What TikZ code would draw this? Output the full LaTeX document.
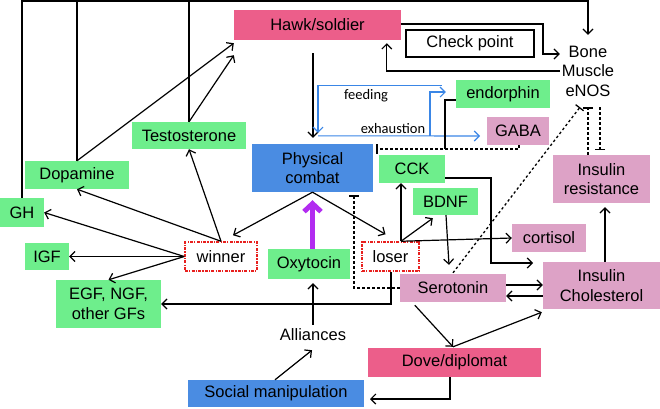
\documentclass[tikz,border=0pt]{standalone}
\usepackage{fontspec}
\setmainfont{Liberation Sans}
\newfontfamily\calibrifont{Carlito}
\usetikzlibrary{arrows.meta,calc}
\definecolor{cgreen}{RGB}{110,238,140}
\definecolor{cpink}{RGB}{221,162,198}
\definecolor{chot}{RGB}{236,94,138}
\definecolor{cblue}{RGB}{74,140,226}
\definecolor{cbluel}{RGB}{58,134,230}
\definecolor{cpurple}{RGB}{178,44,240}
\definecolor{cred}{RGB}{232,32,30}
\newcommand\boxfont{\fontsize{16.5}{19.5}\selectfont}
\tikzset{
 box/.style={rectangle, inner sep=0pt, align=center, font=\boxfont},
 gbox/.style={box, fill=cgreen},
 pbox/.style={box, fill=cpink},
 hbox/.style={box, fill=chot},
 bbox/.style={box, fill=cblue},
 rbox/.style={box, fill=white, draw=cred, line width=1.5pt, dash pattern=on 3pt off 1.2pt on 1.2pt off 1.2pt},
 ln/.style={line width=1.2pt, black},
 arr/.style={ln, -{Straight Barb[length=5pt,width=10pt]}},
 barr/.style={line width=1.1pt, cbluel, -{Straight Barb[length=5pt,width=10pt]}},
 inh/.style={line width=1.3pt, black, dash pattern=on 2.5pt off 2.5pt, -{Bar[width=10pt]}},
 lab/.style={inner sep=0pt, font=\calibrifont\fontsize{14.5}{16}\selectfont},
}
\begin{document}
\begin{tikzpicture}[x=1pt,y=-1pt]
\useasboundingbox (0,0) rectangle (660,408);
% nodes
\node[hbox, minimum width=167, minimum height=30] (hawk) at (317.5,25) {Hawk/soldier};
\node[box, draw=black, line width=1.3pt, minimum width=128, minimum height=27] (check) at (470,43.5) {Check point};
\node[box, minimum width=56, minimum height=72] (bone) at (588,71) {Bone\\Muscle\\eNOS};
\node[gbox, minimum width=94, minimum height=28] (endorphin) at (503,94) {endorphin};
\node[pbox, minimum width=62, minimum height=28] (gaba) at (518,131) {GABA};
\node[pbox, minimum width=97, minimum height=48] (ir) at (601.5,179) {Insulin\\resistance};
\node[gbox, minimum width=66, minimum height=28] (cck) at (412,169) {CCK};
\node[gbox, minimum width=65, minimum height=27] (bdnf) at (445.5,201.5) {BDNF};
\node[bbox, minimum width=121, minimum height=48] (combat) at (312.5,168) {Physical\\combat};
\node[gbox, minimum width=114, minimum height=27] (testo) at (189,135.5) {Testosterone};
\node[gbox, minimum width=104, minimum height=28] (dopa) at (77,175) {Dopamine};
\node[gbox, minimum width=44, minimum height=29] (gh) at (22,212.5) {GH};
\node[gbox, minimum width=44, minimum height=27] (igf) at (47,256.5) {IGF};
\node[gbox, minimum width=105, minimum height=48] (egf) at (108.5,304) {EGF, NGF,\\other GFs};
\node[rbox, minimum width=72, minimum height=29] (winner) at (221,256.5) {winner};
\node[gbox, minimum width=82, minimum height=30] (oxy) at (309,264) {Oxytocin};
\node[rbox, minimum width=57, minimum height=29] (loser) at (390.5,256.5) {loser};
\node[pbox, minimum width=74, minimum height=28] (cortisol) at (549,238) {cortisol};
\node[pbox, minimum width=106, minimum height=28] (sero) at (453,288) {Serotonin};
\node[pbox, minimum width=117, minimum height=47] (ic) at (601.5,285.5) {Insulin\\Cholesterol};
\node[hbox, minimum width=173, minimum height=29] (dove) at (454.5,362.5) {Dove/diplomat};
\node[bbox, minimum width=176, minimum height=27] (social) at (276,393.5) {Social manipulation};
\node[box, minimum width=70, minimum height=20] (alliances) at (313,335) {Alliances};
\coordinate (top) at (0,1);
% top lines
\draw[arr] (gh.north) -- (gh.north |- top) -| (bone.north);
\draw[ln] (dopa.north) -- (dopa.north |- top);
\draw[ln] (testo.north) -- (testo.north |- top);
\draw[arr] (dopa.north) -- ($(hawk.south west)+(0,3)$);
\draw[arr] (testo.north) -- ($(hawk.south west)+(0,15)$);
% hawk - bone loop
\draw[arr] (hawk.east |- 0,24) -- (543,24) |- (bone.west |- 0,54);
\draw[arr] (bone.west) -| ($(hawk.south west)+(153,3)$);
% winner
\draw[arr] (winner.north) -- (dopa.south);
\draw[arr] (winner.north) -- (testo.south);
\draw[arr] (winner.west) -- (gh.east);
\draw[arr] (winner.west) -- (igf.east);
\draw[arr] (winner.west) -- (egf.north);
% combat
\draw[arr] (combat.south) -- ($(winner.north)+(12,-6)$);
\draw[arr] (combat.south) -- ($(loser.north)+(-5,-7)$);
\draw[cpurple, line width=5pt, -{Straight Barb[length=8pt,width=17pt]}] (combat.south |- oxy.north) -- ($(combat.south)+(0,8)$);
\draw[arr] ($(hawk.south)+(-4.5,13)$) -- ($(combat.north)+(0.5,-6)$);
% blue
\draw[barr] ($(endorphin.north west)+(-14,6)$) -| ($(combat.north)+(5.5,-11)$);
\draw[barr] ($(combat.north)+(5.5,-8)$) -- (480,136);
\draw[barr] (430,136) |- ($(endorphin.west)+(-10,-2)$);
\node[lab] (feeding) at (366,96) {feeding};
\node[lab] (exhaustion) at (393,129) {exhaustion};
% GABA / endorphin inhibition
\coordinate (j1) at (445,149);
\draw[inh] ($(gaba.south)+(1,0)$) |- ($(combat.east)+(3,-19)$);
\draw[ln] ($(endorphin.west)+(0,6)$) -| (j1);
% eNOS dotted
\draw[inh] ($(sero.north)+(0,-1)$) -- ($(bone.south)+(-8,0)$);
\draw[inh] ($(ir.north)+(-13.5,0)$) -- (bone.south);
\draw[inh] ($(bone.south)+(12,0)$) -- ($(ir.north)+(-1.5,-5)$);
\draw[inh] (sero.west) -| ($(combat.south)+(41.5,3)$);
% loser
\draw[arr] ($(loser.south)+(0.5,0)$) |- (egf.east);
\coordinate (lt) at ($(loser.north)+(10.5,0)$);
\draw[arr] (lt) -- (lt |- cck.south);
\draw[arr] (lt) -- ($(bdnf.south west)+(20,3)$);
\draw[arr] (lt) -- (cortisol.west);
% BDNF, CCK, serotonin
\draw[arr] ($(bdnf.south)+(0.5,0)$) -- ($(sero.north)+(-4,-9)$);
\draw[arr] ($(cck.east)+(0,9)$) -| (491,263) -- (533,263);
\draw[arr] (sero.east |- 0,285) -- (ic.west |- 0,285);
\draw[arr] (ic.west |- 0,296) -- (sero.east |- 0,296);
\draw[arr] ($(ic.north)+(3.5,0)$) -- ($(ir.south)+(3.5,4)$);
\draw[arr] ($(sero.south west)+(15,3)$) -- ($(dove.north)+(-1.5,-1)$);
\draw[arr] ($(dove.north)+(-1.5,-1)$) -- ($(ic.south west)+(-1,3)$);
\draw[arr] ($(dove.south)+(-4.5,0)$) |- (370,399);
\draw[arr] ($(social.north)+(-1,0)$) -- ($(alliances.south)+(-1,5)$);
\draw[arr] (alliances.north) -- ($(alliances.north |- oxy.south)+(0,4)$);
\end{tikzpicture}
\end{document}
